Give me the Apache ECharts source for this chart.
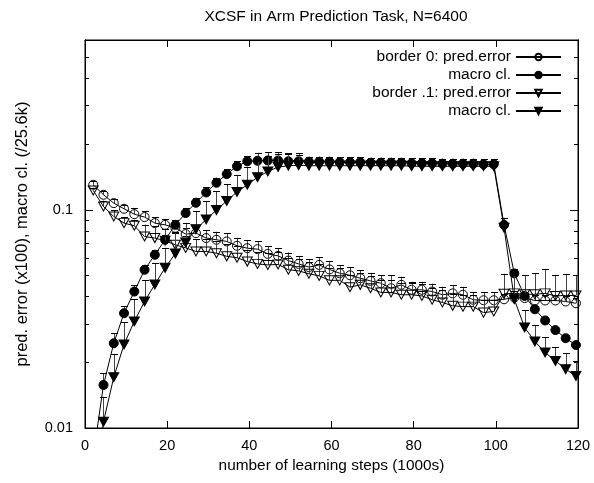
<!DOCTYPE html>
<html>
<head>
<meta charset="utf-8">
<script src="https://cdn.jsdelivr.net/npm/echarts@6/dist/echarts.min.js"></script>
<style>
html,body{margin:0;padding:0;background:#fff;}
#chart{width:594px;height:483px;}
</style>
</head>
<body>
<div id="chart"></div>
<script>
// learning steps (1000s)
var steps = [2,4.5,7,9.5,12,14.5,17,19.5,22,24.5,27,29.5,32,34.5,37,39.5,42,44.5,47,49.5,52,54.5,57,59.5,62,64.5,67,69.5,72,74.5,77,79.5,82,84.5,87,89.5,92,94.5,97,99.5,102,104.5,107,109.5,112,114.5,117,119.5];

// border 0: prediction error
var predErr0 = [0.1302,0.1172,0.1073,0.1011,0.0955,0.0926,0.0869,0.0853,0.0827,0.0774,0.0782,0.0742,0.0729,0.0716,0.0684,0.0667,0.0660,0.0628,0.0615,0.0585,0.0565,0.0546,0.0559,0.0533,0.0512,0.0501,0.0486,0.0472,0.0461,0.0437,0.0453,0.0430,0.0430,0.0422,0.0408,0.0414,0.0408,0.0387,0.0385,0.0385,0.0389,0.0396,0.0394,0.0384,0.0384,0.0384,0.0380,0.0373];
var predErr0Err = [0.0056,0.0051,0.0046,0.0044,0.0062,0.0061,0.0057,0.0056,0.0054,0.0051,0.0051,0.0065,0.0064,0.0063,0.0060,0.0059,0.0058,0.0055,0.0054,0.0052,0.0050,0.0048,0.0049,0.0047,0.0045,0.0044,0.0043,0.0042,0.0041,0.0064,0.0040,0.0038,0.0038,0.0037,0.0036,0.0037,0.0036,0.0034,0.0034,0.0034,0.0021,0.0021,0.0021,0.0021,0.0021,0.0021,0.0021,0.0020];

// border 0: macro classifiers
var macro0 = [0.0074,0.01575,0.02446,0.03358,0.0422,0.0531,0.0622,0.0729,0.0853,0.0966,0.1077,0.1201,0.1330,0.1458,0.1583,0.1669,0.1678,0.1683,0.1683,0.1669,0.1669,0.1661,0.1661,0.1661,0.1652,0.1652,0.1652,0.1643,0.1643,0.1643,0.1643,0.1634,0.1634,0.1634,0.1626,0.1626,0.1626,0.1626,0.1617,0.1617,0.0853,0.0511,0.0403,0.0350,0.0311,0.0281,0.0258,0.0240];
var macro0Err = [0.0005,0.0021,0.0027,0.0026,0.0028,0.0029,0.0034,0.0040,0.0046,0.0052,0.0058,0.0065,0.0072,0.0079,0.0086,0.0090,0.0148,0.0148,0.0148,0.0147,0.0147,0.0090,0.0090,0.0090,0.0090,0.0090,0.0090,0.0090,0.0090,0.0090,0.0089,0.0089,0.0089,0.0089,0.0089,0.0088,0.0088,0.0088,0.0088,0.0088,0.0065,0.0022,0.0013,0.0011,0.0010,0.0009,0.0008,0.0008];

// border .1: prediction error
var predErr1 = [0.1226,0.1035,0.0932,0.0869,0.0845,0.0754,0.0742,0.0721,0.0691,0.0669,0.0644,0.0644,0.0632,0.0612,0.0603,0.0579,0.0565,0.0559,0.0562,0.0531,0.0525,0.0509,0.0498,0.0475,0.0475,0.0442,0.0453,0.0437,0.0418,0.0418,0.0408,0.0408,0.0403,0.0387,0.0376,0.0363,0.0360,0.0360,0.0338,0.0342,0.0412,0.0414,0.0410,0.0410,0.0414,0.0403,0.0405,0.0405];
var predErr1Err = [0.0039,0.0068,0.0061,0.0057,0.0055,0.0102,0.0100,0.0097,0.0093,0.0090,0.0087,0.0087,0.0085,0.0083,0.0082,0.0078,0.0076,0.0076,0.0076,0.0072,0.0071,0.0069,0.0067,0.0064,0.0064,0.0060,0.0061,0.0059,0.0057,0.0057,0.0055,0.0055,0.0054,0.0052,0.0051,0.0049,0.0049,0.0049,0.0046,0.0046,0.0097,0.0089,0.0093,0.0102,0.0119,0.0100,0.0103,0.0098];

// border .1: macro classifiers
var macro1 = [0.0045,0.01069,0.01708,0.02415,0.0308,0.0380,0.0455,0.0542,0.0630,0.0709,0.0814,0.0903,0.0997,0.1098,0.1207,0.1302,0.1410,0.1498,0.1570,0.1592,0.1600,0.1592,0.1592,0.1592,0.1592,0.1592,0.1592,0.1592,0.1592,0.1592,0.1592,0.1583,0.1583,0.1583,0.1583,0.1583,0.1583,0.1583,0.1583,0.1583,0.0827,0.0389,0.0289,0.0249,0.0222,0.0203,0.0186,0.0173];
var macro1Err = [0.0003,0.0032,0.0047,0.0063,0.0081,0.0095,0.0113,0.0128,0.0157,0.0158,0.0170,0.0189,0.0222,0.0216,0.0237,0.0273,0.0260,0.0257,0.0231,0.0215,0.0178,0.0069,0.0069,0.0069,0.0069,0.0069,0.0069,0.0069,0.0069,0.0069,0.0069,0.0068,0.0068,0.0068,0.0068,0.0068,0.0068,0.0068,0.0068,0.0068,0.0045,0.0034,0.0057,0.0046,0.0038,0.0032,0.0034,0.0030];

var seriesNames = ['border 0: pred.error', 'macro cl.', 'border .1: pred.error', 'macro cl.'];
var xTicks = [0, 20, 40, 60, 80, 100, 120];
var yMajorTicks = [0.01, 0.1];
var yMinorTicks = [0.02,0.03,0.04,0.05,0.06,0.07,0.08,0.09,0.2,0.3,0.4,0.5];

var FONT = "'Liberation Sans', Arial, Helvetica, sans-serif";
var TRI_DOWN = 'path://M0,0L10,0L5,9Z';

function pairs(ys) { return steps.map(function (x, i) { return [x, ys[i]]; }); }
function bars(ys, es) { return steps.map(function (x, i) { return [x, ys[i], ys[i] + es[i]]; }); }

function errRender(params, api) {
  var x = api.value(0), y = api.value(1), hi = api.value(2);
  var p0 = api.coord([x, y]);
  var p1 = api.coord([x, hi]);
  var cx = Math.round(p0[0]) + 0.5;
  var half = 3.5;
  return {
    type: 'group',
    children: [
      { type: 'line', shape: { x1: cx, y1: p0[1], x2: cx, y2: p1[1] }, style: { stroke: '#444', lineWidth: 1 } },
      { type: 'line', shape: { x1: cx - half, y1: Math.round(p1[1]) + 0.5, x2: cx + half, y2: Math.round(p1[1]) + 0.5 }, style: { stroke: '#000', lineWidth: 1 } }
    ]
  };
}

var keys = ['s0', 's1', 's2', 's3'];
var vals = [predErr0, macro0, predErr1, macro1];
var errs = [predErr0Err, macro0Err, predErr1Err, macro1Err];
var symbols = ['circle', 'circle', TRI_DOWN, TRI_DOWN];
var sizes = [9, 9, [10, 9], [10, 9]];
var fills = ['transparent', '#000', 'transparent', '#000'];

var series = [];
for (var i = 0; i < 4; i++) {
  series.push({
    type: 'custom', name: 'err' + i, xAxisIndex: 0, yAxisIndex: 0,
    renderItem: errRender, data: bars(vals[i], errs[i]), clip: true, z: 2 + i * 2,
    silent: true, encode: { x: 0, y: [1, 2] }
  });
  series.push({
    type: 'line', name: keys[i], xAxisIndex: 0, yAxisIndex: 0,
    data: pairs(vals[i]), symbol: symbols[i], symbolSize: sizes[i], showSymbol: true,
    showAllSymbol: true, clip: true, z: 3 + i * 2,
    lineStyle: { color: '#000', width: 1 },
    itemStyle: { color: fills[i], borderColor: '#000', borderWidth: 1 },
    emphasis: { disabled: true }
  });
}

function yAx(pos, customTicks, len, showLabel, extra) {
  var a = {
    type: 'log', logBase: 10, min: 0.01, max: 0.6, position: pos,
    axisLine: { show: true, lineStyle: { color: '#000', width: 1 } },
    axisTick: { show: true, inside: true, length: len, customValues: customTicks, lineStyle: { color: '#000', width: 1 } },
    axisLabel: { show: showLabel, customValues: customTicks, margin: 12, color: '#000', fontSize: 14.5, fontFamily: FONT,
      formatter: function (v) { return String(+Number(v).toPrecision(3)); } },
    splitLine: { show: false }, minorTick: { show: false }
  };
  if (extra) for (var k in extra) a[k] = extra[k];
  return a;
}

var option = {
  animation: false,
  backgroundColor: '#fff',
  title: {
    text: 'XCSF in Arm Prediction Task, N=6400',
    left: 331, top: 4, textAlign: 'center',
    textStyle: { color: '#000', fontSize: 15.5, fontWeight: 'normal', fontFamily: FONT }
  },
  grid: { left: 85, right: 16, top: 40, bottom: 55, show: true, borderColor: '#000', borderWidth: 1, backgroundColor: 'transparent' },
  legend: {
    orient: 'vertical', right: 27, top: 44, align: 'right',
    itemWidth: 45, itemHeight: 8, itemGap: 2,
    textStyle: { color: '#000', fontSize: 15.5, fontFamily: FONT },
    data: keys, selectedMode: false,
    formatter: function (n) { return seriesNames[keys.indexOf(n)]; }
  },
  xAxis: [
    {
      type: 'value', min: 0, max: 120, interval: 20, position: 'bottom',
      name: 'number of learning steps (1000s)', nameLocation: 'middle', nameGap: 30,
      nameTextStyle: { color: '#000', fontSize: 15.4, fontFamily: FONT },
      axisLine: { lineStyle: { color: '#000', width: 1 } },
      axisTick: { inside: true, length: 7, lineStyle: { color: '#000' } },
      axisLabel: { color: '#000', fontSize: 14.5, fontFamily: FONT, margin: 10 },
      splitLine: { show: false }
    },
    {
      type: 'value', min: 0, max: 120, interval: 20, position: 'top',
      axisLine: { lineStyle: { color: '#000', width: 1 } },
      axisTick: { inside: true, length: 7, lineStyle: { color: '#000' } },
      axisLabel: { show: false }, splitLine: { show: false }
    }
  ],
  yAxis: [
    yAx('left', yMajorTicks, 8, true, {
      name: 'pred. error (x100), macro cl. (/25.6k)', nameLocation: 'middle', nameGap: 54,
      nameTextStyle: { color: '#000', fontSize: 16.5, fontFamily: FONT }
    }),
    yAx('left', yMinorTicks, 4, false),
    yAx('right', yMajorTicks, 8, false),
    yAx('right', yMinorTicks, 4, false)
  ],
  series: series
};

var chart = echarts.init(document.getElementById('chart'), null, { renderer: 'canvas' });
chart.setOption(option);
</script>
</body>
</html>
